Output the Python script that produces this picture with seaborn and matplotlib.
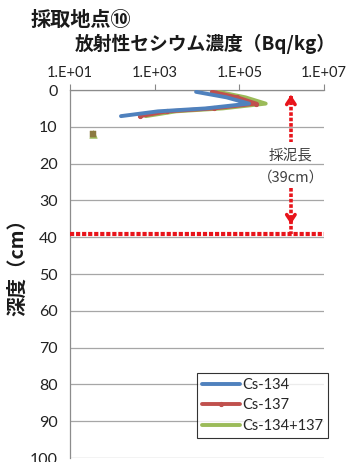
import numpy as np
import pandas as pd
import matplotlib
matplotlib.use("Agg")
import matplotlib.pyplot as plt
from matplotlib.ticker import FixedLocator, NullLocator
import seaborn as sns

# Depth profile of radioactive cesium in sediment core (Bq/kg)
depth = [0.5, 2.0, 3.7, 5.0, 5.8, 7.1]
cs134 = [9.5e3, 5.0e4, 1.7e5, 1.6e4, 1.2e3, 1.6e2]
cs137 = [2.3e4, 9.0e4, 2.5e5, 2.5e4, 2.0e3, 4.6e2]
cs_total = [a + b for a, b in zip(cs134, cs137)]

# deeper layer where only Cs-137 was detected
deep_depth = [12.0]
deep_cs137 = [35.0]
deep_total = [35.0]

core_length = 39
x_ticks = [1e1, 1e3, 1e5, 1e7]
x_tick_labels = ["1.E+01", "1.E+03", "1.E+05", "1.E+07"]
y_ticks = list(range(0, 101, 10))

series_names = ["Cs-134", "Cs-137", "Cs-134+137"]
colors = ["#4F81BD", "#C0504D", "#9BBB59"]
red = "#E8141B"

sns.set_style("white")
plt.rcParams["font.family"] = ["Noto Sans CJK JP", "DejaVu Sans"]

fig = plt.figure(figsize=(3.51, 4.62), dpi=100)
W, H = 351, 462
x0, x1 = 70, 324
y0, y1 = 90, 458
ax = fig.add_axes([x0 / W, 1 - y1 / H, (x1 - x0) / W, (y1 - y0) / H])

profile = pd.DataFrame({
    "depth": depth * 3,
    "value": cs134 + cs137 + cs_total,
    "series": [series_names[0]] * len(depth) + [series_names[1]] * len(depth)
              + [series_names[2]] * len(depth),
})

marker_styles = {"Cs-134": ("o", 4), "Cs-137": ("s", 5.5), "Cs-134+137": ("^", 4.5)}
zorders = {"Cs-134": 5, "Cs-137": 4, "Cs-134+137": 3}
for name, col in zip(series_names, colors):
    sub = profile[profile["series"] == name]
    mk, ms = marker_styles[name]
    sns.lineplot(data=sub, x="value", y="depth", sort=False, estimator=None,
                 color=col, lw=2.8, marker=mk, markersize=ms,
                 markeredgecolor=col, label=name, ax=ax, zorder=zorders[name])

sns.scatterplot(x=deep_total, y=deep_depth, color=colors[2], marker="^",
                s=30, edgecolor=colors[2], ax=ax, zorder=3, legend=False)
sns.scatterplot(x=deep_cs137, y=deep_depth, color="#8C7A40", marker="s",
                s=18, edgecolor="#8C7A40", ax=ax, zorder=4, legend=False)

ax.set_xscale("log")
ax.set_xlim(1e1, 1e7)
ax.set_ylim(100, 0)

# core length marker
ax.plot([1e1, 1e7], [core_length, core_length], color=red, lw=3,
        linestyle=(0, (1.0, 0.45)), zorder=6, clip_on=False)
xa = 1.65e6
ax.plot([xa, xa], [1.5, 14], color=red, lw=2.6, linestyle=(0, (1.0, 0.5)), zorder=6)
ax.plot([xa, xa], [26.5, core_length], color=red, lw=2.6, linestyle=(0, (1.0, 0.5)), zorder=6)
ax.annotate("", xy=(xa, 0.6), xytext=(xa, 3.0),
            arrowprops=dict(arrowstyle="->,head_length=0.45,head_width=0.3",
                            color=red, lw=2.6), zorder=7)
ax.annotate("", xy=(xa, 37.2), xytext=(xa, 34.5),
            arrowprops=dict(arrowstyle="->,head_length=0.45,head_width=0.3",
                            color=red, lw=2.6), zorder=7)
ax.text(xa, 18.2, "採泥長", ha="center", va="center", fontsize=10.5, color="#404040")
ax.text(xa, 23.8, "（39cm）", ha="center", va="center", fontsize=10.5, color="#404040",
        family=["Noto Sans CJK JP", "DejaVu Sans"])

# axes styling
ax.xaxis.set_ticks_position("top")
ax.xaxis.set_label_position("top")
ax.xaxis.set_major_locator(FixedLocator(x_ticks))
ax.xaxis.set_minor_locator(NullLocator())
ax.set_xticklabels(x_tick_labels, family="Lato", fontsize=10.5, color="#222222")
ax.set_yticks(y_ticks)
ax.set_yticklabels([str(v) for v in y_ticks], family="Lato", fontsize=11.5, color="#222222")
ax.tick_params(axis="x", direction="out", length=4, width=0.8, color="#888888", pad=3)
ax.tick_params(axis="y", direction="out", length=4, width=0.8, color="#888888", pad=5)
ax.grid(axis="y", color="#A6A6A6", lw=0.9)
ax.grid(axis="x", visible=False)
for side in ["right", "bottom"]:
    ax.spines[side].set_visible(False)
for side in ["left", "top"]:
    ax.spines[side].set_color("#8C8C8C")
    ax.spines[side].set_linewidth(0.9)
ax.set_xlabel("")
ax.set_ylabel("")

handles, labels = ax.get_legend_handles_labels()
for h in handles:
    h.set_marker("None")
handles[1].set_marker("o")
handles[1].set_markersize(3)
leg = ax.legend(handles, labels, loc="lower right",
                bbox_to_anchor=(328 / W, 1 - 438 / H), bbox_transform=fig.transFigure,
                borderaxespad=0, frameon=True, fancybox=False, handlelength=2.6,
                handletextpad=0.1, labelspacing=0.45, borderpad=0.35,
                prop={"family": "Lato", "size": 10.5})
leg.get_frame().set_edgecolor("#000000")
leg.get_frame().set_linewidth(0.8)

# headings
fig.text(31 / W, 1 - 19 / H, "採取地点⑩", fontsize=14.5, fontweight="bold",
         ha="left", va="center", color="#1A1A1A")
fig.text(205 / W, 1 - 44 / H, "放射性セシウム濃度（Bq/kg）", fontsize=13.5,
         fontweight="bold", ha="center", va="center", color="#1A1A1A")
fig.text(18 / W, 1 - 262 / H, "深度（cm）", fontsize=14, fontweight="bold",
         rotation=90, ha="center", va="center", color="#1A1A1A")

fig.savefig("out.png", dpi=100, facecolor="white")
